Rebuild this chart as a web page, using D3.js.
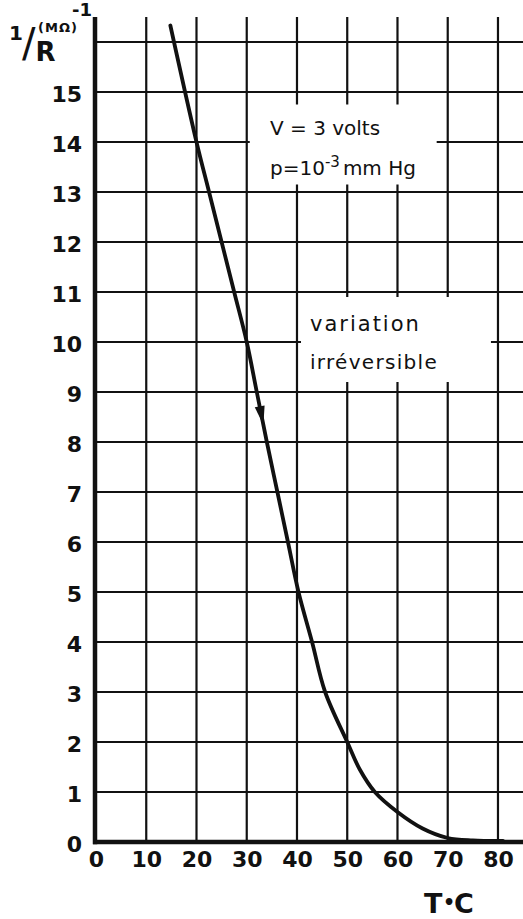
<!DOCTYPE html>
<html><head><meta charset="utf-8">
<script src="https://cdn.jsdelivr.net/npm/d3@7"></script>
<style>body{margin:0;background:#fff}svg{display:block}</style>
</head><body>
<svg id="c" width="523" height="919"></svg>
<script>
// ---- data ----
const temperature = [14.8, 20, 22.5, 25, 27.5, 30, 32, 34, 36.1, 38.2, 40.3, 43, 45.6, 50, 52.5, 55.5, 60, 65, 70, 75, 81];
const conductance = [16.33, 14, 13, 12, 11, 10, 9, 8, 7, 6, 5, 4, 3, 2, 1.45, 1, 0.6, 0.27, 0.08, 0.03, 0.02];
const xTickLabels = [0, 10, 20, 30, 40, 50, 60, 70, 80];
const yTickLabels = [0, 1, 2, 3, 4, 5, 6, 7, 8, 9, 10, 11, 12, 13, 14, 15];
const xGridValues = [10, 20, 30, 40, 50, 60, 70, 80];
const yGridValues = [1, 2, 3, 4, 5, 6, 7, 8, 9, 10, 11, 12, 13, 14, 15, 16];
const arrowValue = 8.34;

const ink = "#111";
const svg = d3.select("#c");
const x = d3.scaleLinear().domain([0, 85]).range([96, 523.1]);
const y = d3.scaleLinear().domain([0, 16.5]).range([842, 17]);

// grid
svg.append("g").selectAll("line").data(yGridValues).join("line")
  .attr("x1", x(0)).attr("x2", x(85))
  .attr("y1", d => y(d)).attr("y2", d => y(d))
  .attr("stroke", ink).attr("stroke-width", 2.2);
svg.append("g").selectAll("line").data(xGridValues).join("line")
  .attr("x1", d => x(d)).attr("x2", d => x(d))
  .attr("y1", y(0)).attr("y2", y(16.5))
  .attr("stroke", ink).attr("stroke-width", 2.2);

// blank areas behind annotations
svg.append("rect").attr("x", x(30.6)).attr("y", y(14.75))
  .attr("width", x(67.8) - x(30.6)).attr("height", y(13.15) - y(14.75)).attr("fill", "#fff");
svg.append("rect").attr("x", x(40.8)).attr("y", y(10.9))
  .attr("width", x(78.6) - x(40.8)).attr("height", y(9.2) - y(10.9)).attr("fill", "#fff");

// axes
svg.append("line").attr("x1", x(0) - 1).attr("x2", x(0) - 1)
  .attr("y1", y(16.5)).attr("y2", y(0) + 2.2)
  .attr("stroke", ink).attr("stroke-width", 4.5);
svg.append("line").attr("x1", x(0) - 3).attr("x2", x(85))
  .attr("y1", y(0)).attr("y2", y(0))
  .attr("stroke", ink).attr("stroke-width", 4.5);

const yAxis = svg.append("g").attr("transform", `translate(${x(0)},0)`)
  .call(d3.axisLeft(y).tickValues(yTickLabels).tickSize(0).tickPadding(14).tickFormat(d3.format("d")));
yAxis.select(".domain").remove();
yAxis.selectAll("text").attr("dy", "0.45em")
  .style("font-family", "'DejaVu Sans', sans-serif").style("font-weight", "bold")
  .style("font-size", "22px").attr("fill", ink);

const xAxis = svg.append("g").attr("transform", `translate(0,${y(0)})`)
  .call(d3.axisBottom(x).tickValues(xTickLabels).tickSize(0).tickPadding(9).tickFormat(d3.format("d")));
xAxis.select(".domain").remove();
xAxis.selectAll("text")
  .style("font-family", "'DejaVu Sans', sans-serif").style("font-weight", "bold")
  .style("font-size", "22px").attr("fill", ink);

// curve
const pts = temperature.map((t, i) => [t, conductance[i]]);
svg.append("path").datum(pts)
  .attr("d", d3.line().x(d => x(d[0])).y(d => y(d[1])).curve(d3.curveCatmullRom.alpha(0.5)))
  .attr("fill", "none").attr("stroke", ink).attr("stroke-width", 3.8).attr("stroke-linecap", "round");

// arrow head on curve
const tAt = d3.scaleLinear().domain(conductance).range(temperature);
const tip = [x(tAt(arrowValue)), y(arrowValue)];
const back = [x(tAt(arrowValue + 0.5)), y(arrowValue + 0.5)];
const ang = Math.atan2(tip[1] - back[1], tip[0] - back[0]) * 180 / Math.PI;
svg.append("path").attr("d", "M0,0 L-19,-5 L-19,5 Z")
  .attr("transform", `translate(${tip[0]},${tip[1]}) rotate(${ang})`)
  .attr("fill", ink);

// annotations
const ff = "'DejaVu Sans', sans-serif";
svg.append("text").attr("x", 270).attr("y", 135).attr("font-family", ff).attr("font-size", 20).attr("fill", ink)
  .text("V = 3 volts");
const p = svg.append("text").attr("x", 270).attr("y", 175).attr("font-family", ff).attr("font-size", 20).attr("fill", ink);
p.append("tspan").text("p=10");
p.append("tspan").attr("dy", -8).attr("font-size", 15).text("-3");
p.append("tspan").attr("dy", 8).attr("dx", 3).text("mm Hg");

svg.append("text").attr("x", 310).attr("y", 331).attr("font-family", ff).attr("font-size", 21)
  .attr("letter-spacing", 2).attr("fill", ink).text("variation");
svg.append("text").attr("x", 310).attr("y", 369).attr("font-family", ff).attr("font-size", 20)
  .attr("letter-spacing", 1.3).attr("fill", ink).text("irréversible");

// y label 1/R (MΩ)^-1 as one text
const lab = svg.append("text").attr("fill", ink).attr("font-family", ff).attr("font-weight", "bold");
lab.append("tspan").attr("x", 9).attr("y", 40).attr("font-size", 20).text("1");
lab.append("tspan").attr("x", 22).attr("y", 57).attr("font-size", 40).attr("font-weight", "normal").text("/");
lab.append("tspan").attr("x", 35.5).attr("y", 61).attr("font-size", 26).text("R");
lab.append("tspan").attr("x", 38).attr("y", 32).attr("font-size", 13).attr("letter-spacing", 1).text("(MΩ)");
lab.append("tspan").attr("x", 72).attr("y", 16).attr("font-size", 18).text("-1");

// x label T°C
const tl = svg.append("text").attr("y", 913).attr("font-family", ff).attr("font-weight", "bold")
  .attr("font-size", 27).attr("fill", ink);
tl.append("tspan").attr("x", 424).text("T");
tl.append("tspan").attr("x", 443).attr("dy", -4).attr("font-size", 19).text("•");
tl.append("tspan").attr("x", 454).attr("dy", 4).text("C");
</script>
</body></html>
